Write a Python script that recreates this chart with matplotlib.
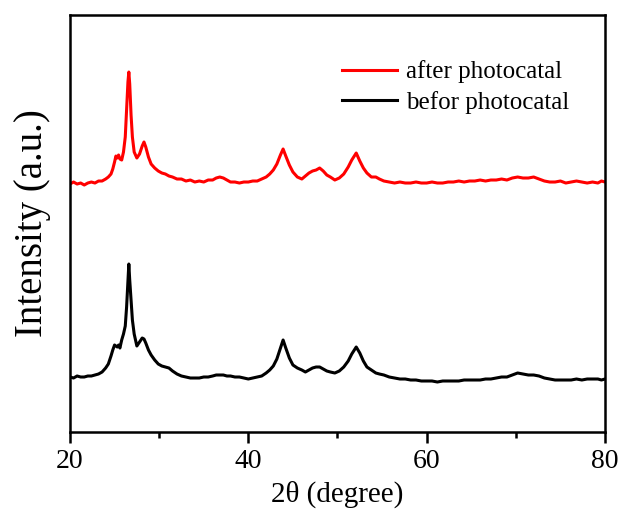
import matplotlib
matplotlib.use("Agg")
import matplotlib.pyplot as plt
from matplotlib.ticker import MultipleLocator

# 2theta grid (degree)
two_theta = [
    20.0, 20.4, 20.8, 21.2, 21.6, 22.0, 22.4, 22.8, 23.2, 23.6,
    24.0, 24.3, 24.6, 24.8, 25.0, 25.15, 25.3, 25.45, 25.6, 25.8,
    26.0, 26.2, 26.35, 26.5, 26.6, 26.7, 26.85, 27.0, 27.2, 27.5,
    27.8, 28.1, 28.3, 28.5, 28.8, 29.1, 29.5, 29.9, 30.3, 30.7,
    31.1, 31.5, 32.0, 32.5, 33.0, 33.5, 34.0, 34.5, 35.0, 35.5,
    36.0, 36.4, 36.8, 37.2, 37.6, 38.0, 38.5, 39.0, 39.5, 40.0,
    40.5, 41.0, 41.5, 42.0, 42.4, 42.8, 43.2, 43.6, 43.9, 44.2,
    44.6, 45.0, 45.5, 46.0, 46.4, 46.8, 47.2, 47.6, 48.0, 48.4,
    48.8, 49.2, 49.7, 50.2, 50.7, 51.2, 51.6, 52.1, 52.5, 52.9,
    53.3, 53.8, 54.3, 54.7, 55.2, 55.8, 56.4, 57.0, 57.6, 58.2,
    58.8, 59.4, 60.0, 60.6, 61.2, 61.8, 62.4, 63.0, 63.6, 64.2,
    64.8, 65.4, 66.0, 66.6, 67.2, 67.8, 68.4, 69.0, 69.6, 70.2,
    70.8, 71.4, 72.0, 72.6, 73.2, 73.8, 74.4, 75.0, 75.6, 76.2,
    76.8, 77.4, 78.0, 78.6, 79.2, 79.6, 80.0,
]

# intensities (a.u.)
after = [
    48, 50, 48, 49, 47, 49, 50, 49, 51, 51,
    53, 55, 58, 63, 70, 76, 74, 77, 73, 72,
    80, 95, 122, 150, 160, 148, 117, 95, 80, 74,
    78, 86, 90, 85, 75, 68, 64, 61, 59, 58,
    56, 55, 53, 53, 51, 52, 50, 51, 50, 52,
    52, 54, 55, 54, 52, 50, 50, 49, 50, 50,
    51, 51, 53, 55, 58, 62, 68, 77, 83, 76,
    67, 60, 55, 53, 56, 59, 61, 62, 64, 61,
    57, 55, 52, 54, 58, 65, 72, 79, 71, 64,
    59, 55, 55, 53, 51, 50, 49, 50, 49, 49,
    50, 49, 49, 50, 49, 49, 50, 50, 51, 50,
    51, 51, 52, 51, 52, 52, 53, 52, 54, 55,
    54, 54, 55, 53, 51, 50, 50, 51, 49, 50,
    51, 50, 49, 50, 49, 51, 50,
]

before = [
    55, 54, 56, 55, 55, 56, 56, 57, 58, 60,
    64, 68, 76, 82, 87, 86, 85, 87, 84, 92,
    98, 106, 125, 152, 168, 152, 132, 112, 98, 86,
    90, 94, 93, 89, 82, 77, 72, 68, 66, 65,
    64, 61, 58, 56, 55, 54, 54, 54, 55, 55,
    56, 57, 57, 57, 56, 56, 55, 55, 54, 53,
    54, 55, 56, 59, 62, 66, 73, 84, 92, 84,
    74, 67, 64, 62, 60, 62, 64, 65, 65, 63,
    61, 60, 59, 61, 65, 71, 78, 85, 79, 71,
    65, 62, 59, 58, 57, 55, 54, 53, 53, 52,
    52, 51, 51, 51, 50, 51, 51, 51, 51, 52,
    52, 52, 52, 53, 53, 54, 55, 55, 57, 59,
    58, 57, 57, 56, 54, 53, 52, 52, 52, 52,
    53, 52, 53, 53, 53, 52, 53,
]

offset = 200  # vertical shift of the "after" pattern

plt.rcParams['font.family'] = ['Liberation Serif', 'DejaVu Serif']

fig = plt.figure(figsize=(6.22, 5.11), dpi=100)
ax = fig.add_axes([0.1125, 0.1546, 0.8602, 0.816])

ax.plot(two_theta, [v + offset for v in after], color='#ff0000', lw=2.2,
        label='after photocatal')
ax.plot(two_theta, before, color='black', lw=2.2, label='befor photocatal')

ax.set_xlim(20, 80)
ax.set_ylim(0, 417)
ax.xaxis.set_major_locator(MultipleLocator(20))
ax.xaxis.set_minor_locator(MultipleLocator(10))
ax.set_yticks([])
ax.tick_params(axis='x', which='major', direction='out', length=8, width=1.8,
               labelsize=20, pad=4)
ax.tick_params(axis='x', which='minor', direction='out', length=4.5, width=1.8)
for s in ax.spines.values():
    s.set_linewidth(1.8)

ax.set_xlabel('2θ (degree)', fontsize=21, labelpad=5)
ax.set_ylabel('Intensity (a.u.)', fontsize=28, labelpad=14)

ax.legend(loc='upper left', bbox_to_anchor=(0.49, 0.915), frameon=False,
          fontsize=18, handlelength=2.2, handletextpad=0.35, labelspacing=0.3,
          borderaxespad=0)

fig.savefig('out.png', dpi=100)
